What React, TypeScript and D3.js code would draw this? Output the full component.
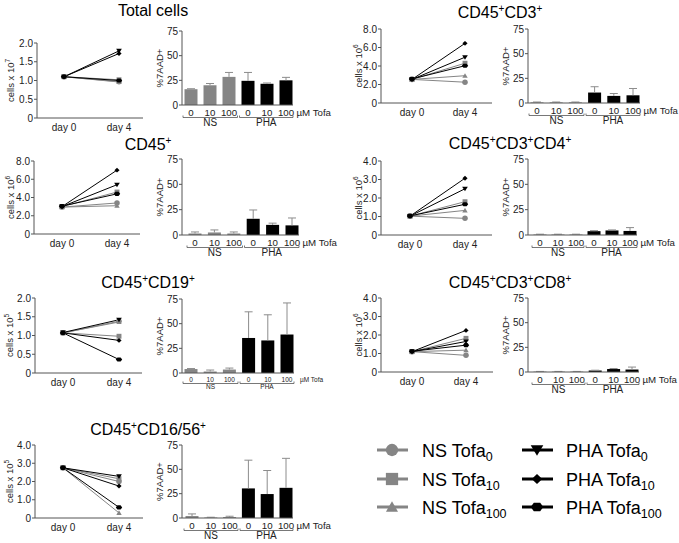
import React from "react";
import * as d3 from "d3";

const FONT = "'Liberation Sans', Arial, Helvetica, sans-serif";
const GRAY = "#858585";
const ERR = "#8c8c8c";

// ---------- shared categories ----------
const seriesGroup = ["NS", "NS", "NS", "PHA", "PHA", "PHA"];
const seriesDose = ["0", "10", "100", "0", "10", "100"];
const seriesMarker = ["circle", "square", "triangle", "triangleDown", "diamond", "hexagon"];
const dayLabels = ["day 0", "day 4"];
const doseTicks = ["0", "10", "100", "0", "10", "100"];
const groupLabels = ["NS", "PHA"];
const pctTicks = [0, 25, 50, 75];

// ---------- data (cell counts day 0 / day 4, %7AAD+ mean / SD) ----------
const totalDay0 = [1.1, 1.1, 1.1, 1.1, 1.1, 1.1];
const totalDay4 = [0.97, 1.02, 0.96, 1.79, 1.72, 1.0];
const totalAAD = [16, 20, 28.5, 24.5, 21.5, 25];
const totalAADsd = [0.5, 1.8, 4.5, 8.5, 0.8, 3];

const cd45Day0 = [2.95, 3.0, 2.95, 3.0, 3.0, 3.05];
const cd45Day4 = [3.4, 4.6, 3.1, 5.4, 7.0, 4.4];
const cd45AAD = [1.5, 2.5, 1.5, 16, 10, 9.5];
const cd45AADsd = [1.5, 2.5, 1.5, 8.7, 1.7, 7.3];

const cd19Day0 = [1.07, 1.07, 1.07, 1.08, 1.07, 1.07];
const cd19Day4 = [1.38, 0.98, 1.36, 1.42, 0.87, 0.36];
const cd19AAD = [4, 1.5, 3.5, 35.5, 33, 39];
const cd19AADsd = [0.5, 1.5, 1.5, 26.5, 26, 32];

const cd1656Day0 = [2.75, 2.75, 2.75, 2.75, 2.75, 2.75];
const cd1656Day4 = [2.0, 2.15, 0.28, 2.28, 1.75, 0.58];
const cd1656AAD = [2, 0.5, 1, 30.4, 24.6, 31];
const cd1656AADsd = [2.2, 0.3, 0.8, 29, 24.2, 30.3];

const cd3Day0 = [2.55, 2.55, 2.55, 2.55, 2.55, 2.6];
const cd3Day4 = [2.25, 4.3, 2.95, 4.95, 6.45, 4.03];
const cd3AAD = [0.6, 0.6, 0.6, 10.6, 7.2, 7.8];
const cd3AADsd = [0.4, 0.4, 0.4, 5.9, 2.4, 6.9];

const cd4Day0 = [1.02, 1.02, 1.02, 1.02, 1.02, 1.03];
const cd4Day4 = [0.9, 1.8, 1.33, 2.5, 3.07, 1.66];
const cd4AAD = [0.5, 0.5, 0.5, 3.8, 4.5, 4];
const cd4AADsd = [0.3, 0.3, 0.3, 0.5, 0.5, 3.3];

const cd8Day0 = [1.1, 1.1, 1.1, 1.1, 1.1, 1.12];
const cd8Day4 = [0.9, 1.82, 1.18, 1.65, 2.25, 1.45];
const cd8AAD = [0.4, 0.4, 0.4, 1.5, 3, 2.5];
const cd8AADsd = [0.2, 0.2, 0.2, 0.3, 0.5, 2.5];

// ---------- symbols ----------
function poly(ctx: any, pts: number[][]) {
  ctx.moveTo(pts[0][0], pts[0][1]);
  for (let i = 1; i < pts.length; i++) ctx.lineTo(pts[i][0], pts[i][1]);
  ctx.closePath();
}
const symTypes: Record<string, any> = {
  circle: d3.symbolCircle,
  square: d3.symbolSquare,
  triangle: {
    draw(ctx: any, size: number) {
      const s = Math.sqrt(size) / 2;
      poly(ctx, [[0, -s * 1.05], [s * 1.1, s * 0.85], [-s * 1.1, s * 0.85]]);
    },
  },
  triangleDown: {
    draw(ctx: any, size: number) {
      const s = Math.sqrt(size) / 2;
      poly(ctx, [[0, s * 1.05], [s * 1.15, -s * 0.85], [-s * 1.15, -s * 0.85]]);
    },
  },
  diamond: {
    draw(ctx: any, size: number) {
      const s = Math.sqrt(size) / 2;
      poly(ctx, [[0, -s], [s * 1.05, 0], [0, s], [-s * 1.05, 0]]);
    },
  },
  hexagon: {
    draw(ctx: any, size: number) {
      const s = Math.sqrt(size) / 2;
      poly(ctx, [
        [-s * 1.3, 0], [-s * 0.65, -s * 0.85], [s * 0.65, -s * 0.85],
        [s * 1.3, 0], [s * 0.65, s * 0.85], [-s * 0.65, s * 0.85],
      ]);
    },
  },
};
function symPath(kind: string, size: number) {
  return d3.symbol().type(symTypes[kind]).size(size)() as string;
}
const colorOf = (i: number) => (seriesGroup[i] === "NS" ? GRAY : "#000");

// ---------- panel layout ----------
type Panel = {
  title: string[];
  tx: number; ty: number;
  exp: string;
  day0: number[]; day4: number[];
  aad: number[]; sd: number[];
  lAx: number; lX0: number; lX1: number; lEnd: number; lTop: number; lBot: number;
  yMax: number; yStep: number; labOff: number;
  bAx: number; bFirst: number; bLast: number; bTop: number; bBot: number;
  small?: boolean;
};

const panels: Panel[] = [
  { title: ["Total cells"], tx: 153, ty: 16, exp: "7", day0: totalDay0, day4: totalDay4, aad: totalAAD, sd: totalAADsd,
    lAx: 37, lX0: 64, lX1: 119, lEnd: 143, lTop: 43, lBot: 118, yMax: 2, yStep: 0.5, labOff: 23,
    bAx: 182, bFirst: 191, bLast: 286, bTop: 31, bBot: 105 },
  { title: ["CD45", "+"], tx: 148, ty: 150, exp: "6", day0: cd45Day0, day4: cd45Day4, aad: cd45AAD, sd: cd45AADsd,
    lAx: 34, lX0: 62, lX1: 117, lEnd: 140, lTop: 161, lBot: 234, yMax: 8, yStep: 2, labOff: 20,
    bAx: 182, bFirst: 195, bLast: 292, bTop: 159, bBot: 235 },
  { title: ["CD45", "+", "CD19", "+"], tx: 148, ty: 288, exp: "5", day0: cd19Day0, day4: cd19Day4, aad: cd19AAD, sd: cd19AADsd,
    lAx: 35, lX0: 63, lX1: 119, lEnd: 142, lTop: 298, lBot: 373, yMax: 2, yStep: 0.5, labOff: 22,
    bAx: 182, bFirst: 191, bLast: 287, bTop: 299, bBot: 373, small: true },
  { title: ["CD45", "+", "CD16/56", "+"], tx: 148, ty: 435, exp: "5", day0: cd1656Day0, day4: cd1656Day4, aad: cd1656AAD, sd: cd1656AADsd,
    lAx: 35, lX0: 63, lX1: 119, lEnd: 143, lTop: 445, lBot: 518, yMax: 4, yStep: 1, labOff: 22,
    bAx: 182, bFirst: 192, bLast: 286, bTop: 445, bBot: 518 },
  { title: ["CD45", "+", "CD3", "+"], tx: 500, ty: 18, exp: "6", day0: cd3Day0, day4: cd3Day4, aad: cd3AAD, sd: cd3AADsd,
    lAx: 381, lX0: 412, lX1: 465, lEnd: 492, lTop: 29, lBot: 103, yMax: 8, yStep: 2, labOff: 19,
    bAx: 528, bFirst: 537, bLast: 633, bTop: 29, bBot: 103 },
  { title: ["CD45", "+", "CD3", "+", "CD4", "+"], tx: 510, ty: 149, exp: "6", day0: cd4Day0, day4: cd4Day4, aad: cd4AAD, sd: cd4AADsd,
    lAx: 381, lX0: 410, lX1: 465, lEnd: 492, lTop: 161, lBot: 235, yMax: 4, yStep: 1, labOff: 19,
    bAx: 528, bFirst: 540, bLast: 630, bTop: 159, bBot: 235 },
  { title: ["CD45", "+", "CD3", "+", "CD8", "+"], tx: 510, ty: 288, exp: "6", day0: cd8Day0, day4: cd8Day4, aad: cd8AAD, sd: cd8AADsd,
    lAx: 381, lX0: 412, lX1: 466, lEnd: 493, lTop: 298, lBot: 372, yMax: 4, yStep: 1, labOff: 19,
    bAx: 528, bFirst: 540, bLast: 632, bTop: 298, bBot: 372 },
];

function Title({ p }: { p: Panel }) {
  return (
    <text x={p.tx} y={p.ty} textAnchor="middle" fontSize={16} fontFamily={FONT} fill="#000">
      {p.title.map((t, i) =>
        t === "+" ? (
          <tspan key={i} fontSize={10} dy={-6}>+</tspan>
        ) : (
          <tspan key={i} dy={i > 0 && p.title[i - 1] === "+" ? 6 : 0}>{t}</tspan>
        )
      )}
    </text>
  );
}

function LineChart({ p }: { p: Panel }) {
  const y = d3.scaleLinear().domain([0, p.yMax]).range([p.lBot, p.lTop]);
  const x = d3.scalePoint<string>().domain(dayLabels).range([p.lX0, p.lX1]);
  const ticks = d3.range(0, p.yMax + 1e-9, p.yStep);
  const fmt = (d: number) => (d === 0 ? "0" : d.toFixed(1));
  const order = [0, 1, 2, 3, 4, 5];
  const line = d3.line<number[]>().x((d) => d[0]).y((d) => d[1]);
  return (
    <g fontFamily={FONT}>
      <line x1={p.lAx} x2={p.lAx} y1={y(0)} y2={y(p.yMax)} stroke="#555" strokeWidth={1} />
      <line x1={p.lAx} x2={p.lEnd} y1={y(0)} y2={y(0)} stroke="#555" strokeWidth={1} />
      {ticks.map((t) => (
        <g key={t}>
          <line x1={p.lAx - 3} x2={p.lAx} y1={y(t)} y2={y(t)} stroke="#555" />
          <text x={p.lAx - 4} y={y(t)} dy="0.35em" textAnchor="end" fontSize={10} fill="#222">{fmt(t)}</text>
        </g>
      ))}
      {dayLabels.map((d) => (
        <text key={d} x={x(d)} y={p.lBot + 13} textAnchor="middle" fontSize={10} fill="#222">{d}</text>
      ))}
      <text transform={`translate(${p.lAx - p.labOff},${(p.lTop + p.lBot) / 2}) rotate(-90)`} textAnchor="middle" fontSize={9.5} fill="#222">
        cells x 10<tspan fontSize={6.5} dy={-4}>{p.exp}</tspan>
      </text>
      {order.map((i) => (
        <path key={"l" + i}
          d={line([[x(dayLabels[0])!, y(p.day0[i])], [x(dayLabels[1])!, y(p.day4[i])]]) as string}
          stroke={colorOf(i)} strokeWidth={1} fill="none" />
      ))}
      {order.map((i) => (
        <g key={"m" + i}>
          <path d={symPath(seriesMarker[i], 24)} transform={`translate(${x(dayLabels[0])},${y(p.day0[i])})`} fill={colorOf(i)} />
          <path d={symPath(seriesMarker[i], 24)} transform={`translate(${x(dayLabels[1])},${y(p.day4[i])})`} fill={colorOf(i)} />
        </g>
      ))}
    </g>
  );
}

function BarChart({ p }: { p: Panel }) {
  const keys = seriesGroup.map((g, i) => g + seriesDose[i]);
  const x = d3.scalePoint<string>().domain(keys).range([p.bFirst, p.bLast]);
  const y = d3.scaleLinear().domain([0, 75]).range([p.bBot, p.bTop]);
  const bw = 13;
  const fs = p.small ? 6.5 : 9.7;
  const tickY = p.bBot + (p.small ? 8.5 : 10.5);
  const brY = p.bBot + (p.small ? 10.5 : 12.5);
  const grpY = p.bBot + (p.small ? 16 : 21);
  const mid = (x(keys[2])! + x(keys[3])!) / 2;
  const brackets = [
    [p.bFirst - 8, mid - 1],
    [mid + 1, p.bLast + 7],
  ];
  return (
    <g fontFamily={FONT}>
      {keys.map((k, i) => (
        <rect key={k} x={x(k)! - bw / 2} width={bw} y={y(p.aad[i])} height={y(0) - y(p.aad[i])} fill={colorOf(i)} />
      ))}
      {keys.map((k, i) => {
        const top = y(p.aad[i] + p.sd[i]);
        return (
          <g key={"e" + k} stroke={ERR} strokeWidth={1}>
            <line x1={x(k)} x2={x(k)} y1={y(p.aad[i])} y2={top} />
            <line x1={x(k)! - 4} x2={x(k)! + 4} y1={top} y2={top} />
          </g>
        );
      })}
      <line x1={p.bAx} x2={p.bAx} y1={y(0)} y2={y(75)} stroke="#555" />
      <line x1={p.bAx} x2={p.bLast + 7} y1={y(0)} y2={y(0)} stroke="#555" />
      {pctTicks.map((t) => (
        <g key={t}>
          <line x1={p.bAx - 3} x2={p.bAx} y1={y(t)} y2={y(t)} stroke="#555" />
          <text x={p.bAx - 4} y={y(t)} dy="0.35em" textAnchor="end" fontSize={10} fill="#222">{t}</text>
        </g>
      ))}
      <text transform={`translate(${p.bAx - 19},${(p.bTop + p.bBot) / 2}) rotate(-90)`} textAnchor="middle" fontSize={9.5} fill="#222">%7AAD+</text>
      {keys.map((k, i) => (
        <text key={"t" + k} x={x(k)} y={tickY} textAnchor="middle" fontSize={fs} fill="#222">{doseTicks[i]}</text>
      ))}
      <text x={p.bLast + (p.small ? 13 : 10.5)} y={tickY} fontSize={fs} fill="#222">µM Tofa</text>
      {brackets.map((b, i) => (
        <g key={"b" + i}>
          <path d={`M${b[0]},${brY - 2}V${brY}H${b[1]}V${brY - 2}`} stroke="#555" fill="none" strokeWidth={0.8} />
          <text x={(b[0] + b[1]) / 2} y={grpY} textAnchor="middle" fontSize={p.small ? 6.5 : 10} fill="#222">{groupLabels[i]}</text>
        </g>
      ))}
    </g>
  );
}

function Legend() {
  const rows = [450, 479, 507];
  const cols = [
    { lx1: 377, lx2: 408, mx: 392, tx: 422 },
    { lx1: 522, lx2: 553, mx: 537, tx: 566 },
  ];
  const sizes: Record<string, number> = { circle: 120, square: 150, triangle: 120, triangleDown: 120, diamond: 100, hexagon: 95 };
  return (
    <g fontFamily={FONT}>
      {seriesGroup.map((g, i) => {
        const c = cols[i < 3 ? 0 : 1];
        const yy = rows[i % 3];
        return (
          <g key={i}>
            <line x1={c.lx1} x2={c.lx2} y1={yy} y2={yy} stroke={colorOf(i)} strokeWidth={3} />
            <path d={symPath(seriesMarker[i], sizes[seriesMarker[i]])} transform={`translate(${c.mx},${yy})`} fill={colorOf(i)} />
            <text x={c.tx} y={yy + 6.5} fontSize={18} fill="#000">
              {g} Tofa<tspan fontSize={12.5} dy={4}>{seriesDose[i]}</tspan>
            </text>
          </g>
        );
      })}
    </g>
  );
}

export default function App() {
  return (
    <svg width={679} height={543} style={{ position: "absolute", left: 0, top: 0, background: "#fff" }}>
      <rect width={679} height={543} fill="#fff" />
      {panels.map((p, i) => (
        <g key={i}>
          <Title p={p} />
          <LineChart p={p} />
          <BarChart p={p} />
        </g>
      ))}
      <Legend />
    </svg>
  );
}
